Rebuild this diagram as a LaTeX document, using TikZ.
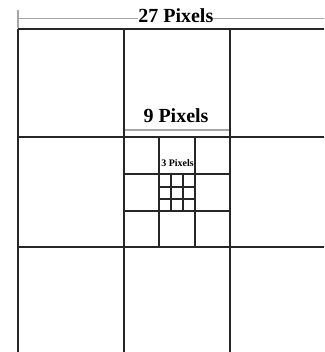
\documentclass[tikz,border=0pt]{standalone}
\usepackage{fontspec}
\setmainfont{Liberation Serif}
\begin{document}
\begin{tikzpicture}[x=1pt,y=-1pt,
  gridline/.style={draw=black!85,line width=2pt},
  measure/.style={draw=black!35,line width=1.8pt},
  lbl/.style={font=\bfseries,inner sep=0pt,text=black}]
\useasboundingbox (0,0) rectangle (324,352);
\begin{scope}
\clip (0,0) rectangle (324,352);
% measure lines
\draw[measure] (17.5,18.5) -- (330,18.5);
\draw[measure] (17.8,10) -- (17.8,28);
\draw[measure] (123,130) -- (230,130);
% big grid
\foreach \x in {17.5,124,230} \draw[gridline] (\x,29.5) -- (\x,360);
\foreach \y in {29.5,137.3,246.7} \draw[gridline] (17.5,\y) -- (330,\y);
% medium grid
\foreach \x in {159.3,195} \draw[gridline] (\x,137.3) -- (\x,246.7);
\foreach \y in {174.3,210.7} \draw[gridline] (124,\y) -- (230,\y);
% tiny grid
\foreach \x in {171,183.3} \draw[gridline] (\x,174.3) -- (\x,210.7);
\foreach \y in {186.7,199.3} \draw[gridline] (159.3,\y) -- (195,\y);
\end{scope}
\node[lbl,font=\fontsize{20}{22}\selectfont\bfseries,fill=white,anchor=base] (t27) at (175.8,22.7) {27 Pixels};
\node[lbl,font=\fontsize{20}{22}\selectfont\bfseries,anchor=base] (t9) at (176,122.7) {9 Pixels};
\node[lbl,font=\fontsize{10}{11}\selectfont\bfseries,anchor=base] (t3) at (177.5,166.5) {3 Pixels};
\end{tikzpicture}
\end{document}
